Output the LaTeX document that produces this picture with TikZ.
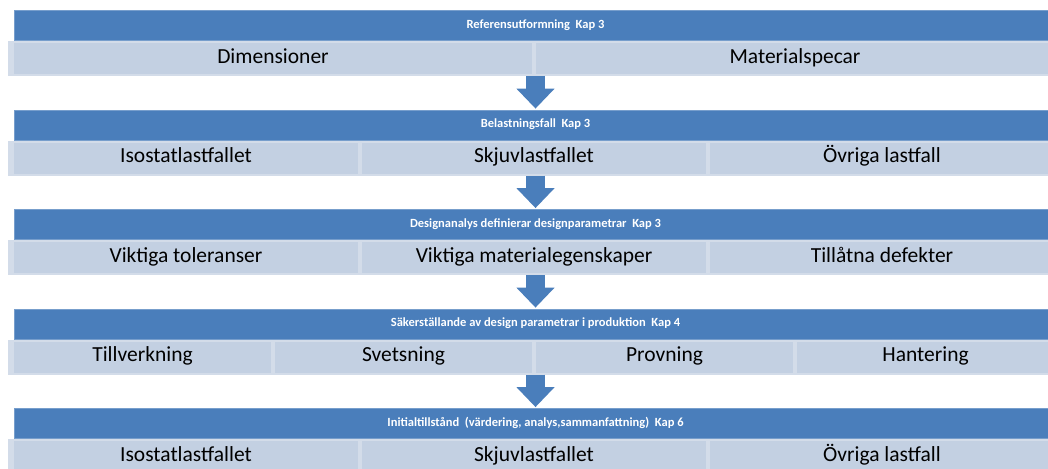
\documentclass[tikz,border=0pt]{standalone}
\usepackage{fontspec}
\setmainfont{Carlito}
\usetikzlibrary{arrows.meta,positioning}

\definecolor{kapblue}{HTML}{4A7EBB}
\definecolor{celllight}{HTML}{C3D0E2}
\definecolor{celledge}{HTML}{D3DCE9}

\begin{document}
\begin{tikzpicture}[x=1pt,y=-1pt,
    kapbar/.style={fill=kapblue, draw=kapblue!75!white, line width=0.8pt,
        minimum width=1043pt, minimum height=30pt, inner sep=0pt,
        text height=8pt, text depth=2.5pt,
        text=white, font=\fontsize{12.5}{14}\selectfont\bfseries},
    cell/.style={fill=celllight, draw=celledge, line width=2pt,
        minimum height=33pt, inner sep=0pt,
        text height=14pt, text depth=4.5pt,
        font=\fontsize{21.5}{24}\selectfont},
    rowshade/.style={fill=celledge},
    downarrow/.style={draw=kapblue, line width=19pt, shorten >=1pt,
        -{Triangle[width=37pt,length=20pt]}}]

    \useasboundingbox (0,0) rectangle (1048,468);

    % Row 1
    \node[kapbar] (kap1) at (535.5,25.5) {Referensutformning~ Kap 3};
    \fill[rowshade] (8,41) rectangle (1056,76);
    \foreach \txt [count=\i] in {Dimensioner,Materialspecar}
        \node[cell, minimum width=520pt] (ref\i) at (12+522*\i-261,58.5) {\txt};

    % Row 2
    \node[kapbar] (kap2) at (535.5,125) {Belastningsfall~ Kap 3};
    \fill[rowshade] (8,140.5) rectangle (1056,175.5);
    \foreach \txt [count=\i] in {Isostatlastfallet,Skjuvlastfallet,Övriga lastfall}
        \node[cell, minimum width=346pt] (last\i) at (12+348*\i-174,158) {\txt};

    % Row 3
    \node[kapbar] (kap3) at (535.5,224.5) {Designanalys definierar designparametrar~ Kap 3};
    \fill[rowshade] (8,240) rectangle (1056,275);
    \foreach \txt [count=\i] in {Viktiga toleranser,Viktiga materialegenskaper,Tillåtna defekter}
        \node[cell, minimum width=346pt] (param\i) at (12+348*\i-174,257.5) {\txt};

    % Row 4
    \node[kapbar] (kap4) at (535.5,324) {Säkerställande av design parametrar i produktion~ Kap 4};
    \fill[rowshade] (8,339.5) rectangle (1056,374.5);
    \foreach \txt [count=\i] in {Tillverkning,Svetsning,Provning,Hantering}
        \node[cell, minimum width=259pt] (prod\i) at (12+261*\i-130.5,357) {\txt};

    % Row 5
    \node[kapbar] (kap5) at (535.5,423.5) {Initialtillstånd~ (värdering, analys,sammanfattning)~ Kap 6};
    \fill[rowshade] (8,439) rectangle (1056,474);
    \foreach \txt [count=\i] in {Isostatlastfallet,Skjuvlastfallet,Övriga lastfall}
        \node[cell, minimum width=346pt] (init\i) at (12+348*\i-174,456.5) {\txt};

    % Arrows
    \draw[downarrow] (kap1.south |- ref1.south) -- (kap2.north);
    \draw[downarrow] (kap2.south |- last1.south) -- (kap3.north);
    \draw[downarrow] (kap3.south |- param1.south) -- (kap4.north);
    \draw[downarrow] (kap4.south |- prod1.south) -- (kap5.north);
\end{tikzpicture}
\end{document}
